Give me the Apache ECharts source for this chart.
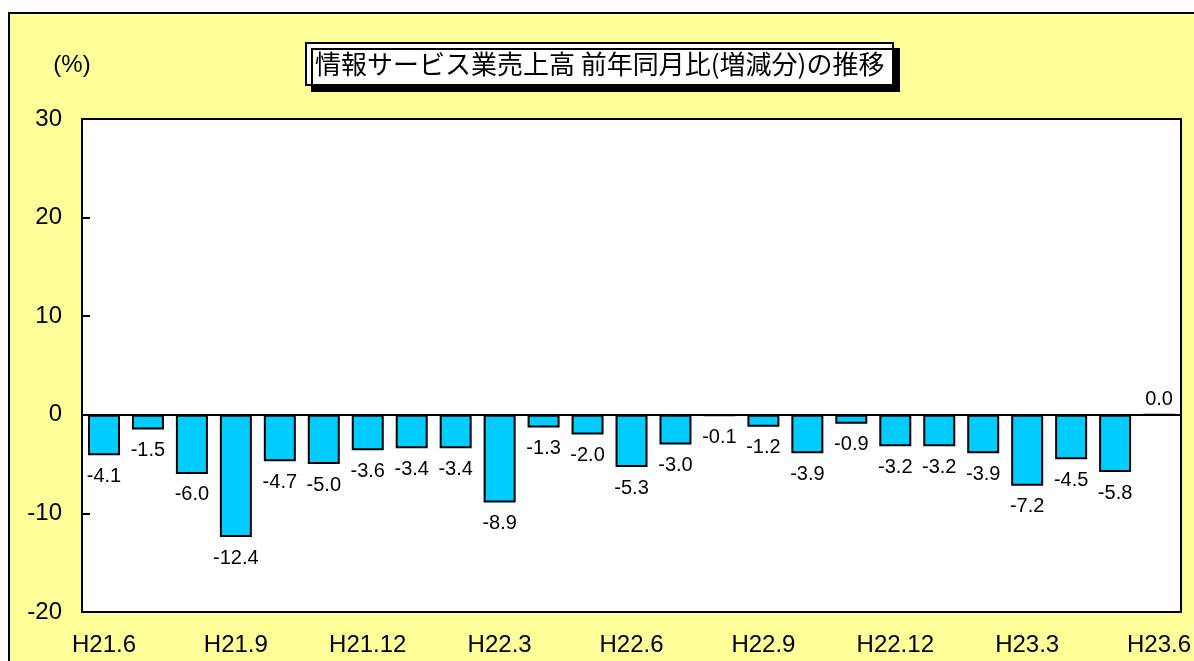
<!DOCTYPE html>
<html>
<head>
<meta charset="utf-8">
<title>情報サービス業売上高 前年同月比(増減分)の推移</title>
<script src="https://cdn.jsdelivr.net/npm/echarts@6/dist/echarts.min.js"></script>
<style>
  html, body { margin: 0; padding: 0; background: #fff; overflow: hidden; }
  .frame {
    position: absolute; left: 8px; top: 12px;
    width: 1300px; height: 800px;
    background: #ffff99; border: 2px solid #000;
  }
  #chart { position: absolute; left: 0; top: 0; width: 1194px; height: 661px; }
</style>
</head>
<body>
<div class="frame"></div>
<div id="chart"></div>
<script>
  // 月（H21.6 〜 H23.6）
  const months = [
    'H21.6', 'H21.7', 'H21.8', 'H21.9', 'H21.10', 'H21.11', 'H21.12',
    'H22.1', 'H22.2', 'H22.3', 'H22.4', 'H22.5', 'H22.6', 'H22.7', 'H22.8',
    'H22.9', 'H22.10', 'H22.11', 'H22.12',
    'H23.1', 'H23.2', 'H23.3', 'H23.4', 'H23.5', 'H23.6'
  ]
  // 前年同月比(増減分) %
  const changeRate = [
    -4.1, -1.5, -6.0, -12.4, -4.7, -5.0, -3.6, -3.4, -3.4, -8.9, -1.3, -2.0, -5.3,
    -3.0, -0.1, -1.2, -3.9, -0.9, -3.2, -3.2, -3.9, -7.2, -4.5, -5.8, 0.0
  ]
  const yTicks = { min: -20, max: 30, step: 10 }

  const fontLatin = '"Liberation Sans", Arial, sans-serif'

  let myChart = echarts.init(document.getElementById('chart'))

  let option = {
    backgroundColor: 'transparent',
    animation: false,
    title: {
      text: '情報サービス業売上高 前年同月比(増減分)の推移',
      left: 306,
      top: 43,
      padding: [8, 9, 8, 9],
      backgroundColor: '#fff',
      borderColor: '#000',
      borderWidth: 2,
      shadowColor: '#000',
      shadowBlur: 0,
      shadowOffsetX: 6,
      shadowOffsetY: 6,
      textStyle: {
        fontFamily: '"Noto Sans CJK JP", sans-serif',
        fontSize: 26,
        fontWeight: 'normal',
        color: '#000'
      }
    },
    grid: {
      left: 82,
      top: 119,
      right: 9,
      bottom: 49,
      show: true,
      backgroundColor: '#fff',
      borderColor: '#000',
      borderWidth: 2
    },
    xAxis: {
      type: 'category',
      data: months,
      axisLine: { show: false, onZero: false },
      axisTick: { show: false },
      axisLabel: {
        interval: 2,
        margin: 21,
        color: '#000',
        fontSize: 24,
        fontFamily: fontLatin
      },
      splitLine: { show: false }
    },
    yAxis: {
      type: 'value',
      min: yTicks.min,
      max: yTicks.max,
      interval: yTicks.step,
      name: '(%)',
      nameLocation: 'end',
      nameGap: 42,
      nameTextStyle: {
        color: '#000',
        fontSize: 24,
        fontFamily: fontLatin,
        align: 'center',
        padding: [0, 20, 0, 0]
      },
      axisLine: { show: true, lineStyle: { color: '#000', width: 2 } },
      axisTick: { show: true, inside: true, length: 8, lineStyle: { color: '#000', width: 2 } },
      axisLabel: {
        margin: 20,
        color: '#000',
        fontSize: 24,
        fontFamily: fontLatin
      },
      splitLine: { show: false }
    },
    series: [{
      name: '前年同月比',
      type: 'bar',
      barWidth: 32,
      itemStyle: {
        color: '#00ccff',
        borderColor: '#000',
        borderWidth: 2
      },
      label: {
        show: true,
        color: '#000',
        fontSize: 20,
        fontFamily: fontLatin,
        formatter: p => p.value.toFixed(1)
      },
      data: changeRate.map(v => ({
        value: v,
        label: v < 0 ? { position: 'bottom', distance: 11 } : { position: 'top', distance: 4 }
      })),
      markLine: {
        silent: true,
        symbol: 'none',
        label: { show: false },
        lineStyle: { color: '#000', width: 2, type: 'solid' },
        data: [{ yAxis: 0 }]
      }
    }]
  }

  myChart.setOption(option)
</script>
</body>
</html>
